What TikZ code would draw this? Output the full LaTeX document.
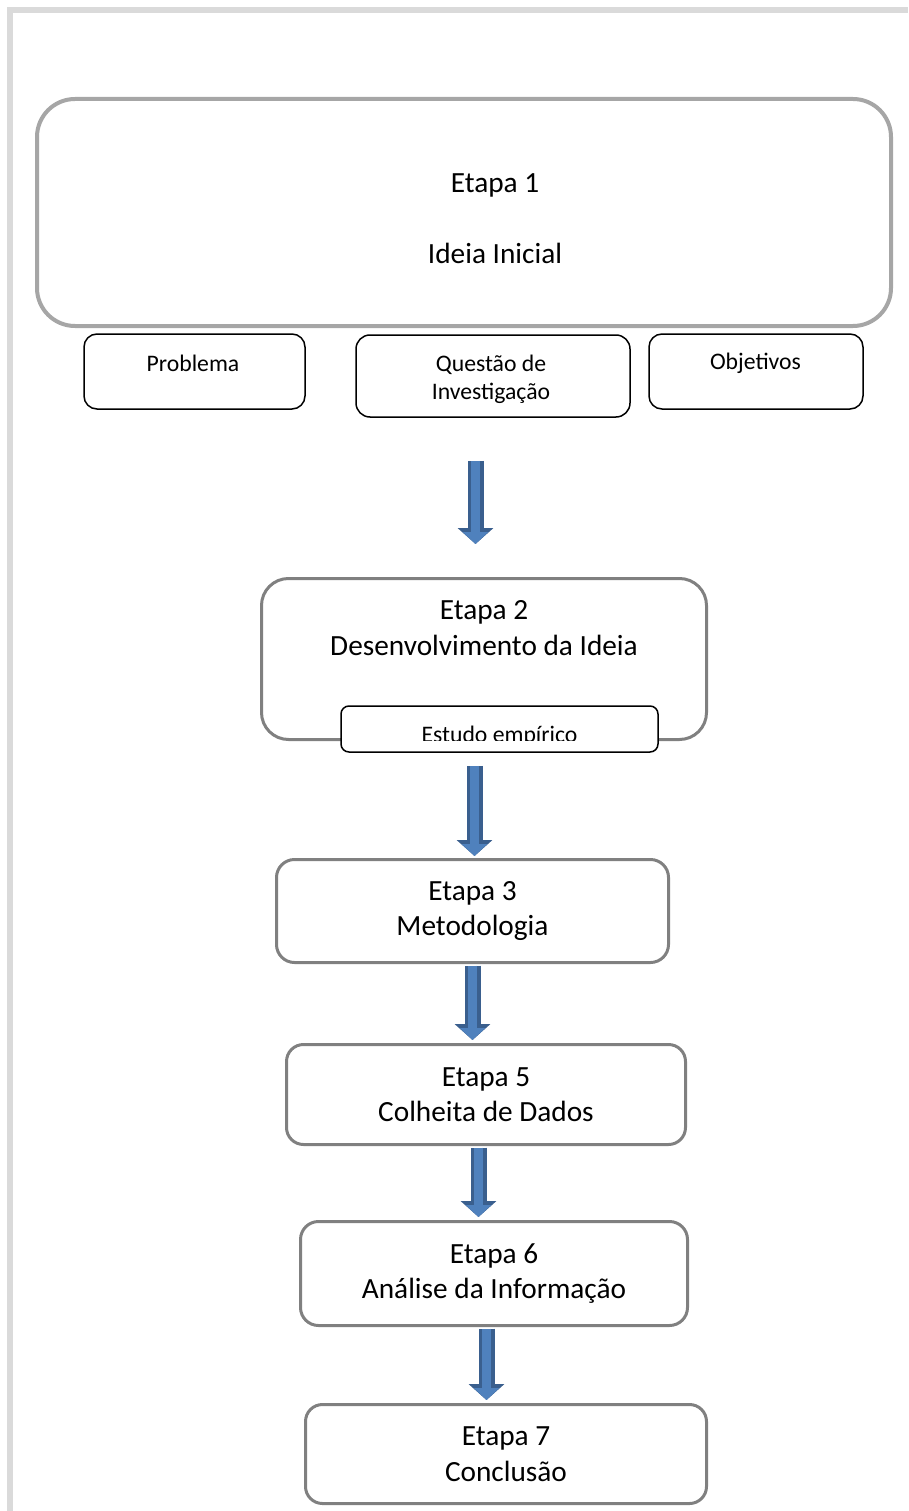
\documentclass[tikz,border=0pt]{standalone}
\usepackage{fontspec}
\setmainfont{Carlito}
\usetikzlibrary{arrows.meta,positioning}
\definecolor{framegrey}{HTML}{DADADA}
\definecolor{biggrey}{HTML}{A6A6A6}
\definecolor{stagegrey}{HTML}{808080}
\definecolor{arrowfill}{HTML}{4F81BD}
\definecolor{arrowedge}{HTML}{3A5F8E}
\newcommand{\bigtxt}{\fontsize{29.3}{35.5}\selectfont}
\newcommand{\smalltxt}{\fontsize{23.7}{28}\selectfont}
\tikzset{
  stage/.style={draw=stagegrey,line width=3pt,fill=white,rounded corners=18pt,
    align=center,font=\bigtxt,inner sep=0pt},
  item/.style={draw=black,line width=1.5pt,fill=white,rounded corners=13pt,inner sep=0pt},
  itemtext/.style={font=\smalltxt,align=center,inner sep=0pt},
  bluearrow/.style={draw=arrowfill,line width=9pt,-{Triangle[length=12pt,width=25pt]},
    preaction={draw=arrowedge,line width=16pt,-{Triangle[length=16pt,width=35pt]}}}
}
\begin{document}
\begin{tikzpicture}[x=1pt,y=-1pt]
  \useasboundingbox (0,0) rectangle (908,1511);
  \fill[framegrey] (7,7) rectangle (908,13);
  \fill[framegrey] (7,7) rectangle (13,1511);
  % etapa 1 and its three parts
  \node[stage,draw=biggrey,line width=4pt,rounded corners=38pt,minimum width=854pt,minimum height=227pt] (e1) at (464,212.5) {};
  \node[font=\bigtxt,align=center,inner sep=0pt] (t1) at (495,218.5) {Etapa 1\\[35.5pt]Ideia Inicial};
  \node[item,minimum width=221pt,minimum height=75pt] (p) at (194.5,371.5) {};
  \node[item,rounded corners=14pt,minimum width=274pt,minimum height=82pt] (q) at (493,376) {};
  \node[item,minimum width=214pt,minimum height=75pt] (o) at (756,371.5) {};
  \node[itemtext] (tp) at (193,363) {Problema};
  \node[itemtext] (tq) at (491,379) {Questão de\\Investigação};
  \node[itemtext] (to) at (755.5,363) {Objetivos};
  % etapa 2
  \node[stage,rounded corners=27pt,minimum width=445pt,minimum height=161pt] (e2) at (484,659) {};
  \node[font=\bigtxt,align=center,inner sep=0pt] (t2) at (484,628) {Etapa 2\\Desenvolvimento da Ideia};
  \node[item,rounded corners=8pt,minimum width=317pt,minimum height=46pt] (est) at (499.5,729) {};
  \begin{scope}
    \clip (est.north west) rectangle ([yshift=-11.5pt]est.east);
    \node[itemtext,anchor=base] (test) at ([yshift=-13pt]est.center) {Estudo empírico};
  \end{scope}
  % etapas 3 a 7
  \node[stage,minimum width=392pt,minimum height=103pt] (e3) at (472.5,911) {Etapa 3\\Metodologia};
  \node[stage,rounded corners=17pt,minimum width=399pt,minimum height=100pt] (e5) at (486,1094.5) {Etapa 5\\Colheita de Dados};
  \node[stage,minimum width=387pt,minimum height=104pt] (e6) at (494,1273.5) {Etapa 6\\Análise da Informação};
  \node[stage,rounded corners=17pt,minimum width=401pt,minimum height=99pt] (e7) at (506,1454) {Etapa 7\\Conclusão};
  % setas
  \coordinate (a1) at ([xshift=-17.5pt,yshift=-43pt]q.south);
  \coordinate (a2) at ([xshift=-25pt,yshift=-13pt]est.south);
  \draw[bluearrow,shorten >=33pt] (a1) -- (a1 |- e2.north);
  \draw[bluearrow,shorten >=2pt] (a2) -- (a2 |- e3.north);
  \draw[bluearrow,shorten >=3pt] ([yshift=-1.5pt]e3.south) -- (e3.south |- e5.north);
  \draw[bluearrow,shorten >=3pt] ([xshift=-7.5pt,yshift=-1.5pt]e5.south) -- ([xshift=-7.5pt]e5.south |- e6.north);
  \draw[bluearrow,shorten >=3pt] ([xshift=-7.5pt,yshift=-1.5pt]e6.south) -- ([xshift=-7.5pt]e6.south |- e7.north);
\end{tikzpicture}
\end{document}
